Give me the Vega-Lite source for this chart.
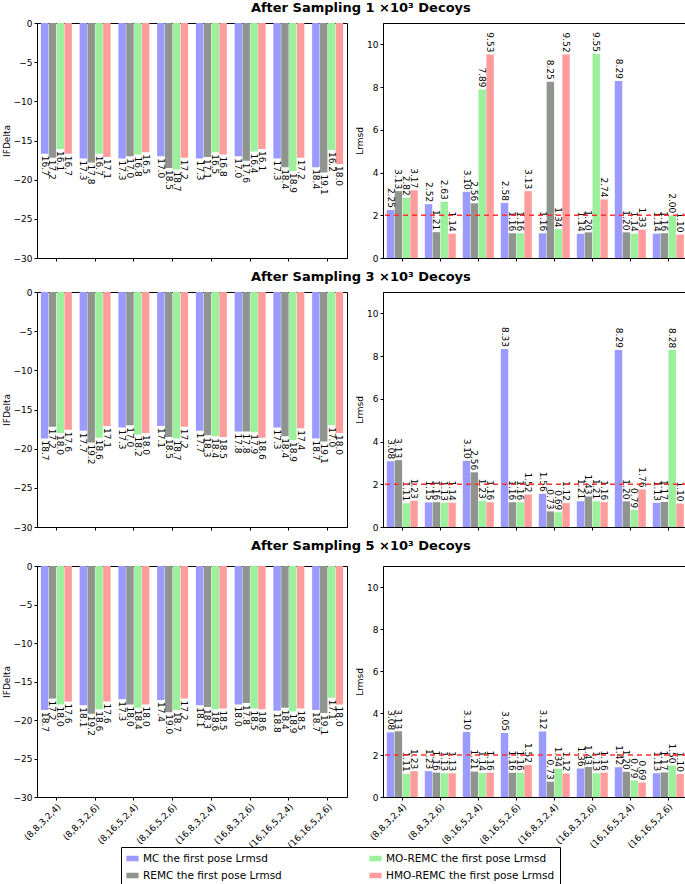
{
"$schema": "https://vega.github.io/schema/vega-lite/v6.json",
"padding": {"left": 1, "top": 1, "right": 2, "bottom": 0},
"autosize": {"type": "pad"},
"data": {"name": "d"},
"datasets": {"d": [
{"r":1,"g":"(8,8,3,2,4)","s":"MC","ifd":16.7,"lr":2.25},{"r":1,"g":"(8,8,3,2,4)","s":"REMC","ifd":17.2,"lr":3.13},{"r":1,"g":"(8,8,3,2,4)","s":"MO-REMC","ifd":16.1,"lr":2.82},{"r":1,"g":"(8,8,3,2,4)","s":"HMO-REMC","ifd":16.7,"lr":3.17},
{"r":1,"g":"(8,8,3,2,6)","s":"MC","ifd":17.3,"lr":2.52},{"r":1,"g":"(8,8,3,2,6)","s":"REMC","ifd":17.8,"lr":1.21},{"r":1,"g":"(8,8,3,2,6)","s":"MO-REMC","ifd":16.7,"lr":2.63},{"r":1,"g":"(8,8,3,2,6)","s":"HMO-REMC","ifd":17.1,"lr":1.14},
{"r":1,"g":"(8,16,5,2,4)","s":"MC","ifd":17.3,"lr":3.10},{"r":1,"g":"(8,16,5,2,4)","s":"REMC","ifd":17.0,"lr":2.56},{"r":1,"g":"(8,16,5,2,4)","s":"MO-REMC","ifd":16.8,"lr":7.89},{"r":1,"g":"(8,16,5,2,4)","s":"HMO-REMC","ifd":16.5,"lr":9.53},
{"r":1,"g":"(8,16,5,2,6)","s":"MC","ifd":17.0,"lr":2.58},{"r":1,"g":"(8,16,5,2,6)","s":"REMC","ifd":18.5,"lr":1.16},{"r":1,"g":"(8,16,5,2,6)","s":"MO-REMC","ifd":18.7,"lr":1.16},{"r":1,"g":"(8,16,5,2,6)","s":"HMO-REMC","ifd":17.2,"lr":3.13},
{"r":1,"g":"(16,8,3,2,4)","s":"MC","ifd":17.3,"lr":1.16},{"r":1,"g":"(16,8,3,2,4)","s":"REMC","ifd":17.1,"lr":8.25},{"r":1,"g":"(16,8,3,2,4)","s":"MO-REMC","ifd":16.5,"lr":1.34},{"r":1,"g":"(16,8,3,2,4)","s":"HMO-REMC","ifd":16.8,"lr":9.52},
{"r":1,"g":"(16,8,3,2,6)","s":"MC","ifd":17.0,"lr":1.14},{"r":1,"g":"(16,8,3,2,6)","s":"REMC","ifd":17.6,"lr":1.20},{"r":1,"g":"(16,8,3,2,6)","s":"MO-REMC","ifd":16.4,"lr":9.55},{"r":1,"g":"(16,8,3,2,6)","s":"HMO-REMC","ifd":16.1,"lr":2.74},
{"r":1,"g":"(16,16,5,2,4)","s":"MC","ifd":17.3,"lr":8.29},{"r":1,"g":"(16,16,5,2,4)","s":"REMC","ifd":18.4,"lr":1.20},{"r":1,"g":"(16,16,5,2,4)","s":"MO-REMC","ifd":18.9,"lr":1.14},{"r":1,"g":"(16,16,5,2,4)","s":"HMO-REMC","ifd":17.2,"lr":1.33},
{"r":1,"g":"(16,16,5,2,6)","s":"MC","ifd":18.4,"lr":1.14},{"r":1,"g":"(16,16,5,2,6)","s":"REMC","ifd":19.1,"lr":1.16},{"r":1,"g":"(16,16,5,2,6)","s":"MO-REMC","ifd":16.2,"lr":2.00},{"r":1,"g":"(16,16,5,2,6)","s":"HMO-REMC","ifd":18.0,"lr":1.10},
{"r":2,"g":"(8,8,3,2,4)","s":"MC","ifd":18.7,"lr":3.08},{"r":2,"g":"(8,8,3,2,4)","s":"REMC","ifd":17.2,"lr":3.13},{"r":2,"g":"(8,8,3,2,4)","s":"MO-REMC","ifd":18.0,"lr":1.11},{"r":2,"g":"(8,8,3,2,4)","s":"HMO-REMC","ifd":17.6,"lr":1.23},
{"r":2,"g":"(8,8,3,2,6)","s":"MC","ifd":17.7,"lr":1.15},{"r":2,"g":"(8,8,3,2,6)","s":"REMC","ifd":19.2,"lr":1.16},{"r":2,"g":"(8,8,3,2,6)","s":"MO-REMC","ifd":18.6,"lr":1.13},{"r":2,"g":"(8,8,3,2,6)","s":"HMO-REMC","ifd":17.1,"lr":1.14},
{"r":2,"g":"(8,16,5,2,4)","s":"MC","ifd":17.3,"lr":3.10},{"r":2,"g":"(8,16,5,2,4)","s":"REMC","ifd":17.0,"lr":2.56},{"r":2,"g":"(8,16,5,2,4)","s":"MO-REMC","ifd":18.2,"lr":1.23},{"r":2,"g":"(8,16,5,2,4)","s":"HMO-REMC","ifd":18.0,"lr":1.16},
{"r":2,"g":"(8,16,5,2,6)","s":"MC","ifd":17.1,"lr":8.33},{"r":2,"g":"(8,16,5,2,6)","s":"REMC","ifd":18.5,"lr":1.16},{"r":2,"g":"(8,16,5,2,6)","s":"MO-REMC","ifd":18.7,"lr":1.16},{"r":2,"g":"(8,16,5,2,6)","s":"HMO-REMC","ifd":17.2,"lr":1.52},
{"r":2,"g":"(16,8,3,2,4)","s":"MC","ifd":17.7,"lr":1.56},{"r":2,"g":"(16,8,3,2,4)","s":"REMC","ifd":18.3,"lr":0.73},{"r":2,"g":"(16,8,3,2,4)","s":"MO-REMC","ifd":18.4,"lr":0.69},{"r":2,"g":"(16,8,3,2,4)","s":"HMO-REMC","ifd":18.5,"lr":1.12},
{"r":2,"g":"(16,8,3,2,6)","s":"MC","ifd":17.8,"lr":1.21},{"r":2,"g":"(16,8,3,2,6)","s":"REMC","ifd":17.8,"lr":1.43},{"r":2,"g":"(16,8,3,2,6)","s":"MO-REMC","ifd":17.9,"lr":1.21},{"r":2,"g":"(16,8,3,2,6)","s":"HMO-REMC","ifd":18.6,"lr":1.16},
{"r":2,"g":"(16,16,5,2,4)","s":"MC","ifd":17.3,"lr":8.29},{"r":2,"g":"(16,16,5,2,4)","s":"REMC","ifd":18.4,"lr":1.20},{"r":2,"g":"(16,16,5,2,4)","s":"MO-REMC","ifd":18.9,"lr":0.79},{"r":2,"g":"(16,16,5,2,4)","s":"HMO-REMC","ifd":17.4,"lr":1.76},
{"r":2,"g":"(16,16,5,2,6)","s":"MC","ifd":18.7,"lr":1.13},{"r":2,"g":"(16,16,5,2,6)","s":"REMC","ifd":19.1,"lr":1.17},{"r":2,"g":"(16,16,5,2,6)","s":"MO-REMC","ifd":17.0,"lr":8.28},{"r":2,"g":"(16,16,5,2,6)","s":"HMO-REMC","ifd":18.0,"lr":1.10},
{"r":3,"g":"(8,8,3,2,4)","s":"MC","ifd":18.7,"lr":3.08},{"r":3,"g":"(8,8,3,2,4)","s":"REMC","ifd":17.2,"lr":3.13},{"r":3,"g":"(8,8,3,2,4)","s":"MO-REMC","ifd":18.0,"lr":1.11},{"r":3,"g":"(8,8,3,2,4)","s":"HMO-REMC","ifd":17.6,"lr":1.23},
{"r":3,"g":"(8,8,3,2,6)","s":"MC","ifd":18.1,"lr":1.23},{"r":3,"g":"(8,8,3,2,6)","s":"REMC","ifd":19.2,"lr":1.16},{"r":3,"g":"(8,8,3,2,6)","s":"MO-REMC","ifd":18.6,"lr":1.13},{"r":3,"g":"(8,8,3,2,6)","s":"HMO-REMC","ifd":17.6,"lr":1.13},
{"r":3,"g":"(8,16,5,2,4)","s":"MC","ifd":17.3,"lr":3.10},{"r":3,"g":"(8,16,5,2,4)","s":"REMC","ifd":18.0,"lr":1.21},{"r":3,"g":"(8,16,5,2,4)","s":"MO-REMC","ifd":18.4,"lr":1.14},{"r":3,"g":"(8,16,5,2,4)","s":"HMO-REMC","ifd":18.0,"lr":1.16},
{"r":3,"g":"(8,16,5,2,6)","s":"MC","ifd":17.4,"lr":3.05},{"r":3,"g":"(8,16,5,2,6)","s":"REMC","ifd":19.0,"lr":1.16},{"r":3,"g":"(8,16,5,2,6)","s":"MO-REMC","ifd":18.7,"lr":1.16},{"r":3,"g":"(8,16,5,2,6)","s":"HMO-REMC","ifd":17.2,"lr":1.52},
{"r":3,"g":"(16,8,3,2,4)","s":"MC","ifd":18.1,"lr":3.12},{"r":3,"g":"(16,8,3,2,4)","s":"REMC","ifd":18.3,"lr":0.73},{"r":3,"g":"(16,8,3,2,4)","s":"MO-REMC","ifd":18.6,"lr":1.34},{"r":3,"g":"(16,8,3,2,4)","s":"HMO-REMC","ifd":18.5,"lr":1.12},
{"r":3,"g":"(16,8,3,2,6)","s":"MC","ifd":18.0,"lr":1.36},{"r":3,"g":"(16,8,3,2,6)","s":"REMC","ifd":17.8,"lr":1.43},{"r":3,"g":"(16,8,3,2,6)","s":"MO-REMC","ifd":18.5,"lr":1.13},{"r":3,"g":"(16,8,3,2,6)","s":"HMO-REMC","ifd":18.6,"lr":1.16},
{"r":3,"g":"(16,16,5,2,4)","s":"MC","ifd":18.8,"lr":1.42},{"r":3,"g":"(16,16,5,2,4)","s":"REMC","ifd":18.4,"lr":1.20},{"r":3,"g":"(16,16,5,2,4)","s":"MO-REMC","ifd":18.9,"lr":0.79},{"r":3,"g":"(16,16,5,2,4)","s":"HMO-REMC","ifd":18.5,"lr":0.69},
{"r":3,"g":"(16,16,5,2,6)","s":"MC","ifd":18.7,"lr":1.13},{"r":3,"g":"(16,16,5,2,6)","s":"REMC","ifd":19.1,"lr":1.17},{"r":3,"g":"(16,16,5,2,6)","s":"MO-REMC","ifd":17.1,"lr":1.50},{"r":3,"g":"(16,16,5,2,6)","s":"HMO-REMC","ifd":18.0,"lr":1.10}
]},
"spacing": 6,
"vconcat": [
{"title": {"text": "After Sampling 1 ×10³ Decoys", "dx": 16},
 "spacing": 7,
 "hconcat": [
  {"width": 310, "height": 235, "transform": [{"filter": "datum.r == 1"}],
   "encoding": {"y": {"field": "ifd", "type": "quantitative", "scale": {"domain": [0, 30], "reverse": true}, "axis": {"title": "IFDelta", "values": [0,5,10,15,20,25,30], "labelExpr": "datum.value == 0 ? '0' : '−' + datum.value"}},
     "x": {"field": "g", "type": "nominal", "sort": null, "scale": {"paddingInner": 0.2, "paddingOuter": 0.1}, "axis": {"title": null, "labels": false}},
     "xOffset": {"field": "s", "type": "nominal", "scale": {"domain": ["MC","REMC","MO-REMC","HMO-REMC"], "paddingInner": 0.05}}},
   "layer": [
    {"mark": {"type": "bar"}, "encoding": {"color": {"field": "s", "type": "nominal", "scale": {"domain": ["MC","MO-REMC","REMC","HMO-REMC"], "range": ["#9b9bff","#9cf09c","#8f948f","#ff9c9c"]}, "legend": {"title": null, "labelExpr": "datum.label + ' the first pose Lrmsd'"}}}},
    {"mark": {"type": "text", "angle": 90, "align": "left", "baseline": "middle", "dx": 2, "fontSize": 9}, "encoding": {"text": {"field": "ifd", "type": "quantitative", "format": ".1f"}}}
   ]},
  {"width": 304, "height": 235,
   "layer": [
    {"transform": [{"filter": "datum.r == 1"}],
     "encoding": {"y": {"field": "lr", "type": "quantitative", "scale": {"domain": [0, 11]}, "axis": {"title": "Lrmsd", "values": [0,2,4,6,8,10]}},
       "x": {"field": "g", "type": "nominal", "sort": null, "scale": {"paddingInner": 0.2, "paddingOuter": 0.1}, "axis": {"title": null, "labels": false}},
       "xOffset": {"field": "s", "type": "nominal", "scale": {"domain": ["MC","REMC","MO-REMC","HMO-REMC"], "paddingInner": 0.05}}},
     "layer": [
      {"mark": {"type": "bar"}, "encoding": {"color": {"field": "s", "type": "nominal", "scale": {"domain": ["MC","MO-REMC","REMC","HMO-REMC"], "range": ["#9b9bff","#9cf09c","#8f948f","#ff9c9c"]}, "legend": {"title": null, "labelExpr": "datum.label + ' the first pose Lrmsd'"}}}},
      {"mark": {"type": "text", "angle": 90, "align": "right", "baseline": "middle", "dx": -2, "fontSize": 9}, "encoding": {"text": {"field": "lr", "type": "quantitative", "format": ".2f"}}}
     ]},
    {"data": {"values": [{}]}, "mark": {"type": "rule", "color": "#ff3030", "strokeDash": [5, 4], "strokeWidth": 1.3}, "encoding": {"y": {"datum": 2}}}
   ]}
 ]},
{"title": {"text": "After Sampling 3 ×10³ Decoys", "dx": 16},
 "spacing": 7,
 "hconcat": [
  {"width": 310, "height": 235, "transform": [{"filter": "datum.r == 2"}],
   "encoding": {"y": {"field": "ifd", "type": "quantitative", "scale": {"domain": [0, 30], "reverse": true}, "axis": {"title": "IFDelta", "values": [0,5,10,15,20,25,30], "labelExpr": "datum.value == 0 ? '0' : '−' + datum.value"}},
     "x": {"field": "g", "type": "nominal", "sort": null, "scale": {"paddingInner": 0.2, "paddingOuter": 0.1}, "axis": {"title": null, "labels": false}},
     "xOffset": {"field": "s", "type": "nominal", "scale": {"domain": ["MC","REMC","MO-REMC","HMO-REMC"], "paddingInner": 0.05}}},
   "layer": [
    {"mark": {"type": "bar"}, "encoding": {"color": {"field": "s", "type": "nominal", "scale": {"domain": ["MC","MO-REMC","REMC","HMO-REMC"], "range": ["#9b9bff","#9cf09c","#8f948f","#ff9c9c"]}, "legend": {"title": null, "labelExpr": "datum.label + ' the first pose Lrmsd'"}}}},
    {"mark": {"type": "text", "angle": 90, "align": "left", "baseline": "middle", "dx": 2, "fontSize": 9}, "encoding": {"text": {"field": "ifd", "type": "quantitative", "format": ".1f"}}}
   ]},
  {"width": 304, "height": 235,
   "layer": [
    {"transform": [{"filter": "datum.r == 2"}],
     "encoding": {"y": {"field": "lr", "type": "quantitative", "scale": {"domain": [0, 11]}, "axis": {"title": "Lrmsd", "values": [0,2,4,6,8,10]}},
       "x": {"field": "g", "type": "nominal", "sort": null, "scale": {"paddingInner": 0.2, "paddingOuter": 0.1}, "axis": {"title": null, "labels": false}},
       "xOffset": {"field": "s", "type": "nominal", "scale": {"domain": ["MC","REMC","MO-REMC","HMO-REMC"], "paddingInner": 0.05}}},
     "layer": [
      {"mark": {"type": "bar"}, "encoding": {"color": {"field": "s", "type": "nominal", "scale": {"domain": ["MC","MO-REMC","REMC","HMO-REMC"], "range": ["#9b9bff","#9cf09c","#8f948f","#ff9c9c"]}, "legend": {"title": null, "labelExpr": "datum.label + ' the first pose Lrmsd'"}}}},
      {"mark": {"type": "text", "angle": 90, "align": "right", "baseline": "middle", "dx": -2, "fontSize": 9}, "encoding": {"text": {"field": "lr", "type": "quantitative", "format": ".2f"}}}
     ]},
    {"data": {"values": [{}]}, "mark": {"type": "rule", "color": "#ff3030", "strokeDash": [5, 4], "strokeWidth": 1.3}, "encoding": {"y": {"datum": 2}}}
   ]}
 ]},
{"title": {"text": "After Sampling 5 ×10³ Decoys", "dx": 16, "offset": 9},
 "spacing": 7,
 "hconcat": [
  {"width": 310, "height": 231, "transform": [{"filter": "datum.r == 3"}],
   "encoding": {"y": {"field": "ifd", "type": "quantitative", "scale": {"domain": [0, 30], "reverse": true}, "axis": {"title": "IFDelta", "values": [0,5,10,15,20,25,30], "labelExpr": "datum.value == 0 ? '0' : '−' + datum.value"}},
     "x": {"field": "g", "type": "nominal", "sort": null, "scale": {"paddingInner": 0.2, "paddingOuter": 0.1}, "axis": {"title": null, "labelAngle": -45, "labelAlign": "right", "labelBaseline": "top"}},
     "xOffset": {"field": "s", "type": "nominal", "scale": {"domain": ["MC","REMC","MO-REMC","HMO-REMC"], "paddingInner": 0.05}}},
   "layer": [
    {"mark": {"type": "bar"}, "encoding": {"color": {"field": "s", "type": "nominal", "scale": {"domain": ["MC","MO-REMC","REMC","HMO-REMC"], "range": ["#9b9bff","#9cf09c","#8f948f","#ff9c9c"]}, "legend": {"title": null, "labelExpr": "datum.label + ' the first pose Lrmsd'"}}}},
    {"mark": {"type": "text", "angle": 90, "align": "left", "baseline": "middle", "dx": 2, "fontSize": 9}, "encoding": {"text": {"field": "ifd", "type": "quantitative", "format": ".1f"}}}
   ]},
  {"width": 304, "height": 231,
   "layer": [
    {"transform": [{"filter": "datum.r == 3"}],
     "encoding": {"y": {"field": "lr", "type": "quantitative", "scale": {"domain": [0, 11]}, "axis": {"title": "Lrmsd", "values": [0,2,4,6,8,10]}},
       "x": {"field": "g", "type": "nominal", "sort": null, "scale": {"paddingInner": 0.2, "paddingOuter": 0.1}, "axis": {"title": null, "labelAngle": -45, "labelAlign": "right", "labelBaseline": "top"}},
       "xOffset": {"field": "s", "type": "nominal", "scale": {"domain": ["MC","REMC","MO-REMC","HMO-REMC"], "paddingInner": 0.05}}},
     "layer": [
      {"mark": {"type": "bar"}, "encoding": {"color": {"field": "s", "type": "nominal", "scale": {"domain": ["MC","MO-REMC","REMC","HMO-REMC"], "range": ["#9b9bff","#9cf09c","#8f948f","#ff9c9c"]}, "legend": {"title": null, "labelExpr": "datum.label + ' the first pose Lrmsd'"}}}},
      {"mark": {"type": "text", "angle": 90, "align": "right", "baseline": "middle", "dx": -2, "fontSize": 9}, "encoding": {"text": {"field": "lr", "type": "quantitative", "format": ".2f"}}}
     ]},
    {"data": {"values": [{}]}, "mark": {"type": "rule", "color": "#ff3030", "strokeDash": [5, 4], "strokeWidth": 1.3}, "encoding": {"y": {"datum": 2}}}
   ]}
 ]}
],
"config": {
 "font": "DejaVu Sans",
 "view": {"stroke": "black", "strokeWidth": 1},
 "title": {"fontSize": 13, "fontWeight": "bold", "color": "black", "offset": 4, "anchor": "middle"},
 "axis": {"labelFontSize": 9, "labelColor": "black", "titleFontSize": 9, "titleFontWeight": "normal", "titleColor": "black", "domainColor": "black", "tickColor": "black", "tickSize": 3, "grid": false, "labelPadding": 2, "titlePadding": 2},
 "legend": {"orient": "none", "legendX": 84, "legendY": 824, "direction": "horizontal", "columns": 2, "columnPadding": 87, "rowPadding": 5, "symbolType": "M-1,-0.45H1V0.45H-1Z", "symbolSize": 150, "symbolStrokeWidth": 0, "labelFontSize": 10.5, "labelColor": "black", "strokeColor": "black", "padding": 5, "fillColor": "white", "labelLimit": 300},
 "text": {"color": "black"}
}
}
